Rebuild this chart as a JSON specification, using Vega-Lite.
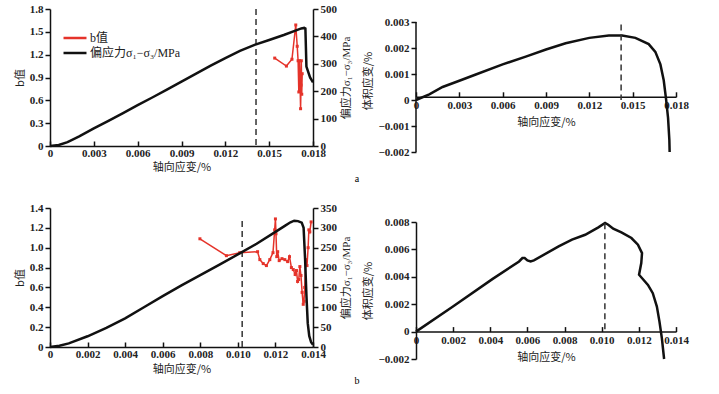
{
  "$schema": "https://vega.github.io/schema/vega-lite/v6.json",
  "padding": {"left": 14, "top": 3, "right": 5, "bottom": 2},
  "background": "white",
  "config": {
    "view": {"stroke": null},
    "axis": {
      "grid": false,
      "domainColor": "#111",
      "domainWidth": 1.5,
      "tickColor": "#111",
      "tickWidth": 1.5,
      "tickSize": 5,
      "labelOverlap": false,
      "labelFlush": false,
      "labelFont": "Liberation Serif",
      "labelFontWeight": "bold",
      "labelFontSize": 11,
      "labelColor": "#222",
      "titleFont": "Noto Sans CJK SC",
      "titleFontSize": 11,
      "titleFontWeight": "normal",
      "titleColor": "#222"
    },
    "legend": {
      "orient": "none",
      "symbolType": "M-2,0H2",
      "symbolSize": 132,
      "symbolStrokeWidth": 2.5,
      "labelOffset": 8,
      "labelFont": "Liberation Serif, DejaVu Serif, Noto Sans CJK SC",
      "labelFontSize": 12,
      "labelColor": "#222",
      "rowPadding": 2,
      "title": null
    }
  },
  "datasets": {
    "tlb": [
      {"i": 1, "s": 0.01538, "b": 1.155},
      {"i": 2, "s": 0.01618, "b": 1.05},
      {"i": 3, "s": 0.01656, "b": 1.14},
      {"i": 4, "s": 0.01682, "b": 1.59},
      {"i": 5, "s": 0.01692, "b": 1.31},
      {"i": 6, "s": 0.01698, "b": 1.12},
      {"i": 7, "s": 0.01703, "b": 0.71},
      {"i": 8, "s": 0.01707, "b": 1.12},
      {"i": 9, "s": 0.01711, "b": 0.86},
      {"i": 10, "s": 0.01715, "b": 0.49},
      {"i": 11, "s": 0.01718, "b": 0.8},
      {"i": 12, "s": 0.0172, "b": 1.12},
      {"i": 13, "s": 0.01723, "b": 0.68},
      {"i": 14, "s": 0.01726, "b": 0.95}
    ],
    "tls": [
      {"i": 1, "s": 0, "v": 0},
      {"i": 2, "s": 0.0006, "v": 4},
      {"i": 3, "s": 0.0012, "v": 14},
      {"i": 4, "s": 0.002, "v": 35},
      {"i": 5, "s": 0.003, "v": 64},
      {"i": 6, "s": 0.004, "v": 92},
      {"i": 7, "s": 0.005, "v": 120},
      {"i": 8, "s": 0.006, "v": 149},
      {"i": 9, "s": 0.007, "v": 177},
      {"i": 10, "s": 0.008, "v": 206},
      {"i": 11, "s": 0.009, "v": 235},
      {"i": 12, "s": 0.01, "v": 264},
      {"i": 13, "s": 0.011, "v": 293},
      {"i": 14, "s": 0.012, "v": 321},
      {"i": 15, "s": 0.013, "v": 347},
      {"i": 16, "s": 0.014, "v": 369},
      {"i": 17, "s": 0.015, "v": 387},
      {"i": 18, "s": 0.016, "v": 405},
      {"i": 19, "s": 0.0168, "v": 421},
      {"i": 20, "s": 0.0172, "v": 429},
      {"i": 21, "s": 0.0174, "v": 431},
      {"i": 22, "s": 0.01748, "v": 429},
      {"i": 23, "s": 0.01755, "v": 290},
      {"i": 24, "s": 0.0178, "v": 250},
      {"i": 25, "s": 0.018, "v": 232}
    ],
    "trv": [
      {"i": 1, "s": 0, "v": 0},
      {"i": 2, "s": 0.00092, "v": 0.00022},
      {"i": 3, "s": 0.00184, "v": 0.0005},
      {"i": 4, "s": 0.003, "v": 0.00074},
      {"i": 5, "s": 0.00414, "v": 0.00098},
      {"i": 6, "s": 0.006, "v": 0.00137},
      {"i": 7, "s": 0.0076, "v": 0.00167},
      {"i": 8, "s": 0.009, "v": 0.00194},
      {"i": 9, "s": 0.01036, "v": 0.00218},
      {"i": 10, "s": 0.012, "v": 0.00239},
      {"i": 11, "s": 0.01335, "v": 0.00248},
      {"i": 12, "s": 0.01427, "v": 0.00248},
      {"i": 13, "s": 0.01519, "v": 0.00239},
      {"i": 14, "s": 0.01611, "v": 0.00215},
      {"i": 15, "s": 0.01657, "v": 0.00185},
      {"i": 16, "s": 0.01692, "v": 0.00137},
      {"i": 17, "s": 0.01715, "v": 0.00076},
      {"i": 18, "s": 0.01731, "v": 0.00004},
      {"i": 19, "s": 0.01745, "v": -0.00069},
      {"i": 20, "s": 0.01754, "v": -0.00154},
      {"i": 21, "s": 0.01756, "v": -0.002}
    ],
    "blb": [
      {"i": 1, "s": 0.00798, "b": 1.09},
      {"i": 2, "s": 0.00939, "b": 0.92},
      {"i": 3, "s": 0.0101, "b": 0.95},
      {"i": 4, "s": 0.01105, "b": 0.96},
      {"i": 5, "s": 0.01117, "b": 0.88},
      {"i": 6, "s": 0.01135, "b": 0.84},
      {"i": 7, "s": 0.01152, "b": 0.82},
      {"i": 8, "s": 0.0117, "b": 0.88},
      {"i": 9, "s": 0.01187, "b": 0.95},
      {"i": 10, "s": 0.01196, "b": 1.18},
      {"i": 11, "s": 0.012, "b": 1.29},
      {"i": 12, "s": 0.01203, "b": 1.14},
      {"i": 13, "s": 0.01207, "b": 0.91},
      {"i": 14, "s": 0.01212, "b": 0.96},
      {"i": 15, "s": 0.0122, "b": 0.87},
      {"i": 16, "s": 0.01235, "b": 0.89},
      {"i": 17, "s": 0.0125, "b": 0.88},
      {"i": 18, "s": 0.01265, "b": 0.86},
      {"i": 19, "s": 0.01275, "b": 0.91},
      {"i": 20, "s": 0.01285, "b": 0.8},
      {"i": 21, "s": 0.01295, "b": 0.78},
      {"i": 22, "s": 0.01305, "b": 0.73},
      {"i": 23, "s": 0.01312, "b": 0.77},
      {"i": 24, "s": 0.01318, "b": 0.66},
      {"i": 25, "s": 0.01324, "b": 0.68},
      {"i": 26, "s": 0.0133, "b": 0.81},
      {"i": 27, "s": 0.01336, "b": 0.72},
      {"i": 28, "s": 0.01342, "b": 0.55},
      {"i": 29, "s": 0.01348, "b": 0.43},
      {"i": 30, "s": 0.01352, "b": 0.46},
      {"i": 31, "s": 0.01356, "b": 0.6},
      {"i": 32, "s": 0.01362, "b": 0.88},
      {"i": 33, "s": 0.01368, "b": 0.82},
      {"i": 34, "s": 0.01374, "b": 1.0},
      {"i": 35, "s": 0.01378, "b": 1.18},
      {"i": 36, "s": 0.01383, "b": 1.16},
      {"i": 37, "s": 0.0139, "b": 1.26}
    ],
    "bls": [
      {"i": 1, "s": 0, "v": 0},
      {"i": 2, "s": 0.0005, "v": 3},
      {"i": 3, "s": 0.001, "v": 9},
      {"i": 4, "s": 0.002, "v": 27},
      {"i": 5, "s": 0.003, "v": 48},
      {"i": 6, "s": 0.004, "v": 72},
      {"i": 7, "s": 0.005, "v": 100},
      {"i": 8, "s": 0.006, "v": 128},
      {"i": 9, "s": 0.007, "v": 155},
      {"i": 10, "s": 0.008, "v": 181},
      {"i": 11, "s": 0.009, "v": 207},
      {"i": 12, "s": 0.01, "v": 233},
      {"i": 13, "s": 0.011, "v": 260},
      {"i": 14, "s": 0.012, "v": 290},
      {"i": 15, "s": 0.0125, "v": 305},
      {"i": 16, "s": 0.0128, "v": 314},
      {"i": 17, "s": 0.013, "v": 318},
      {"i": 18, "s": 0.0132, "v": 317},
      {"i": 19, "s": 0.0134, "v": 313},
      {"i": 20, "s": 0.0135, "v": 300},
      {"i": 21, "s": 0.01358, "v": 220},
      {"i": 22, "s": 0.01365, "v": 130},
      {"i": 23, "s": 0.01372, "v": 60},
      {"i": 24, "s": 0.0138, "v": 28},
      {"i": 25, "s": 0.0139, "v": 12},
      {"i": 26, "s": 0.014, "v": 6}
    ],
    "brv": [
      {"i": 1, "s": 0, "v": 0},
      {"i": 2, "s": 0.00199, "v": 0.00183},
      {"i": 3, "s": 0.00413, "v": 0.00385},
      {"i": 4, "s": 0.00555, "v": 0.00512},
      {"i": 5, "s": 0.00573, "v": 0.00537},
      {"i": 6, "s": 0.00585, "v": 0.00537},
      {"i": 7, "s": 0.006, "v": 0.0052},
      {"i": 8, "s": 0.00617, "v": 0.00512},
      {"i": 9, "s": 0.00635, "v": 0.0052},
      {"i": 10, "s": 0.00768, "v": 0.00622},
      {"i": 11, "s": 0.0084, "v": 0.00671},
      {"i": 12, "s": 0.00911, "v": 0.00707},
      {"i": 13, "s": 0.00982, "v": 0.00761},
      {"i": 14, "s": 0.01018, "v": 0.00793},
      {"i": 15, "s": 0.01035, "v": 0.0078},
      {"i": 16, "s": 0.01062, "v": 0.00751},
      {"i": 17, "s": 0.01106, "v": 0.00724},
      {"i": 18, "s": 0.0116, "v": 0.00683},
      {"i": 19, "s": 0.01195, "v": 0.00634},
      {"i": 20, "s": 0.01217, "v": 0.00573},
      {"i": 21, "s": 0.01213, "v": 0.005},
      {"i": 22, "s": 0.01201, "v": 0.00415},
      {"i": 23, "s": 0.01249, "v": 0.00341},
      {"i": 24, "s": 0.01275, "v": 0.0028},
      {"i": 25, "s": 0.01297, "v": 0.00183},
      {"i": 26, "s": 0.01311, "v": 0.00073},
      {"i": 27, "s": 0.01324, "v": -0.00049},
      {"i": 28, "s": 0.01336, "v": -0.002}
    ]
  },
  "hconcat": [
    {
      "spacing": 18,
      "vconcat": [
        {
          "width": 263,
          "height": 137,
          "title": {"text": "a", "orient": "bottom", "anchor": "end", "frame": "group", "align": "center", "dx": 44, "offset": 2, "font": "Liberation Serif", "fontSize": 10, "fontWeight": "normal"},
          "layer": [
            {
              "layer": [
                {
                  "data": {"name": "tlb"},
                  "mark": {"type": "line", "strokeWidth": 1.5, "point": {"shape": "square", "size": 9, "filled": true}},
                  "encoding": {
                    "x": {"field": "s", "type": "quantitative", "scale": {"domain": [0, 0.018]},
                      "axis": {"values": [0, 0.003, 0.006, 0.009, 0.012, 0.015, 0.018], "tickCount": 30, "labelOverlap": false, "labelExpr": "datum.value == 0 ? '0' : format(datum.value, '.3f')", "tickSize": -5, "labelPadding": 6, "title": "轴向应变/%", "titlePadding": 3}},
                    "y": {"field": "b", "type": "quantitative", "scale": {"domain": [0, 1.8]},
                      "axis": {"values": [0, 0.3, 0.6, 0.9, 1.2, 1.5, 1.8], "tickCount": 30, "labelOverlap": false, "labelExpr": "datum.value == 0 ? '0' : format(datum.value, '.1f')", "title": "b值", "titlePadding": 4}},
                    "order": {"field": "i"},
                    "color": {"datum": "b值", "type": "nominal",
                      "scale": {"domain": ["b值", "偏应力σ₁−σ₃/MPa"], "range": ["#e5332a", "#111111"]},
                      "legend": {"legendX": 18, "legendY": 22}}
                  }
                },
                {
                  "data": {"values": [{"s": 0.0141}]},
                  "mark": {"type": "rule", "strokeDash": [6, 4], "strokeWidth": 1.5, "color": "#333"},
                  "encoding": {"x": {"field": "s", "type": "quantitative"}}
                }
              ]
            },
            {
              "data": {"name": "tls"},
              "mark": {"type": "line", "strokeWidth": 2.5},
              "encoding": {
                "x": {"field": "s", "type": "quantitative"},
                "y": {"field": "v", "type": "quantitative", "scale": {"domain": [0, 500]},
                  "axis": {"orient": "right", "values": [0, 100, 200, 300, 400, 500], "tickCount": 30, "labelOverlap": false, "title": "偏应力σ₁−σ₃/MPa", "titleAngle": 270, "titleBaseline": "top", "titlePadding": 4, "titleFont": "Liberation Serif, DejaVu Serif, Noto Sans CJK SC"}},
                "order": {"field": "i"},
                "color": {"datum": "偏应力σ₁−σ₃/MPa", "type": "nominal"}
              }
            }
          ],
          "resolve": {"scale": {"y": "independent"}}
        },
        {
          "width": 263,
          "height": 139,
          "title": {"text": "b", "orient": "bottom", "anchor": "end", "frame": "group", "align": "center", "dx": 44, "offset": 2, "font": "Liberation Serif", "fontSize": 10, "fontWeight": "normal"},
          "layer": [
            {
              "layer": [
                {
                  "data": {"name": "blb"},
                  "mark": {"type": "line", "strokeWidth": 1.5, "point": {"shape": "square", "size": 9, "filled": true}},
                  "encoding": {
                    "x": {"field": "s", "type": "quantitative", "scale": {"domain": [0, 0.014]},
                      "axis": {"values": [0, 0.002, 0.004, 0.006, 0.008, 0.01, 0.012, 0.014], "tickCount": 30, "labelOverlap": false, "labelExpr": "datum.value == 0 ? '0' : format(datum.value, '.3f')", "tickSize": -5, "labelPadding": 6, "title": "轴向应变/%", "titlePadding": 4}},
                    "y": {"field": "b", "type": "quantitative", "scale": {"domain": [0, 1.4]},
                      "axis": {"values": [0, 0.2, 0.4, 0.6, 0.8, 1.0, 1.2, 1.4], "tickCount": 30, "labelOverlap": false, "labelExpr": "datum.value == 0 ? '0' : format(datum.value, '.1f')", "title": "b值", "titlePadding": 4}},
                    "order": {"field": "i"},
                    "color": {"datum": "b值", "type": "nominal",
                      "scale": {"domain": ["b值", "偏应力σ₁−σ₃/MPa"], "range": ["#e5332a", "#111111"]},
                      "legend": {"legendX": 18, "legendY": 15}}
                  }
                },
                {
                  "data": {"values": [{"s": 0.01023, "top": 1.27, "bot": 0}]},
                  "mark": {"type": "rule", "strokeDash": [6, 4], "strokeWidth": 1.5, "color": "#333"},
                  "encoding": {"x": {"field": "s", "type": "quantitative"}, "y": {"field": "top", "type": "quantitative"}, "y2": {"field": "bot"}}
                }
              ]
            },
            {
              "data": {"name": "bls"},
              "mark": {"type": "line", "strokeWidth": 2.5},
              "encoding": {
                "x": {"field": "s", "type": "quantitative"},
                "y": {"field": "v", "type": "quantitative", "scale": {"domain": [0, 350]},
                  "axis": {"orient": "right", "values": [0, 50, 100, 150, 200, 250, 300, 350], "tickCount": 30, "labelOverlap": false, "title": "偏应力σ₁−σ₃/MPa", "titleAngle": 270, "titleBaseline": "top", "titlePadding": 4, "titleFont": "Liberation Serif, DejaVu Serif, Noto Sans CJK SC"}},
                "order": {"field": "i"},
                "color": {"datum": "偏应力σ₁−σ₃/MPa", "type": "nominal"}
              }
            }
          ],
          "resolve": {"scale": {"y": "independent"}}
        }
      ]
    },
    {
      "spacing": 59,
      "vconcat": [
        {
          "width": 260,
          "height": 143,
          "layer": [
            {
              "data": {"name": "trv"},
              "mark": {"type": "line", "strokeWidth": 2.5, "color": "#111"},
              "encoding": {
                "x": {"field": "s", "type": "quantitative", "scale": {"domain": [0, 0.018]},
                  "axis": {"values": [0, 0.003, 0.006, 0.009, 0.012, 0.015, 0.018], "tickCount": 30, "labelOverlap": false, "labelExpr": "datum.value == 0 ? '0' : format(datum.value, '.3f')", "offset": -55.2, "tickSize": -5, "labelPadding": 8, "title": "轴向应变/%", "titlePadding": 6}},
                "y": {"field": "v", "type": "quantitative", "scale": {"domain": [-0.002, 0.00318]},
                  "axis": {"values": [-0.002, -0.001, 0, 0.001, 0.002, 0.003], "tickCount": 30, "domain": false, "labelOverlap": false, "labelExpr": "datum.value == 0 ? '0' : format(datum.value, '.3f')", "title": "体积应变/%", "titlePadding": 4}},
                "order": {"field": "i"}
              }
            },
            {
              "data": {"values": [{"s": 0.0142, "top": 0.0029, "bot": 0}]},
              "mark": {"type": "rule", "strokeDash": [6, 4], "strokeWidth": 1.5, "color": "#333"},
              "encoding": {"x": {"field": "s", "type": "quantitative"}, "y": {"field": "top", "type": "quantitative"}, "y2": {"field": "bot"}}
            },
            {
              "data": {"values": [{"s": 0, "top": 0.003, "bot": -0.002}]},
              "mark": {"type": "rule", "strokeWidth": 1.5, "color": "#111"},
              "encoding": {"x": {"field": "s", "type": "quantitative"}, "y": {"field": "top", "type": "quantitative"}, "y2": {"field": "bot"}}
            }
          ]
        },
        {
          "width": 260,
          "height": 137,
          "layer": [
            {
              "data": {"name": "brv"},
              "mark": {"type": "line", "strokeWidth": 2.5, "color": "#111"},
              "encoding": {
                "x": {"field": "s", "type": "quantitative", "scale": {"domain": [0, 0.014]},
                  "axis": {"values": [0, 0.002, 0.004, 0.006, 0.008, 0.01, 0.012, 0.014], "tickCount": 30, "labelOverlap": false, "labelExpr": "datum.value == 0 ? '0' : format(datum.value, '.3f')", "offset": -27.4, "tickSize": -5, "labelPadding": 8, "title": "轴向应变/%", "titlePadding": 6}},
                "y": {"field": "v", "type": "quantitative", "scale": {"domain": [-0.002, 0.008]},
                  "axis": {"values": [-0.002, 0, 0.002, 0.004, 0.006, 0.008], "tickCount": 30, "labelOverlap": false, "labelExpr": "datum.value == 0 ? '0' : format(datum.value, '.3f')", "title": "体积应变/%", "titlePadding": 4}},
                "order": {"field": "i"}
              }
            },
            {
              "data": {"values": [{"s": 0.01017, "top": 0.0079, "bot": 0}]},
              "mark": {"type": "rule", "strokeDash": [6, 4], "strokeWidth": 1.5, "color": "#333"},
              "encoding": {"x": {"field": "s", "type": "quantitative"}, "y": {"field": "top", "type": "quantitative"}, "y2": {"field": "bot"}}
            }
          ]
        }
      ]
    }
  ],
  "spacing": 2
}
